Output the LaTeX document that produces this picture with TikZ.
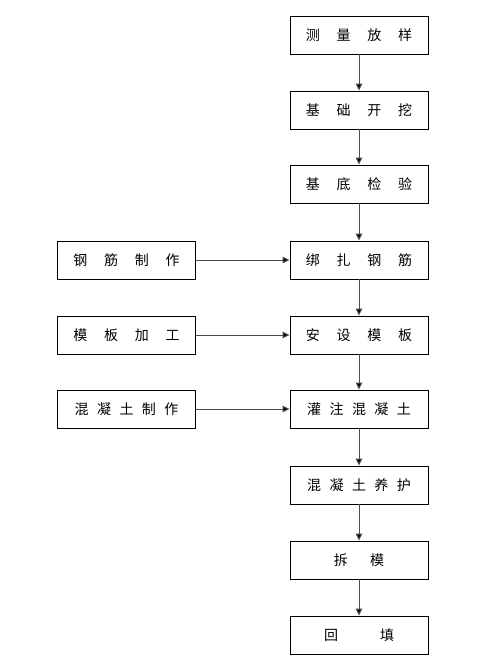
\documentclass[tikz,border=0pt]{standalone}
\usepackage{fontspec}
\setmainfont{Noto Sans CJK SC}
\usetikzlibrary{arrows.meta}
\begin{document}
\begin{tikzpicture}[x=1pt,y=1pt,
  box/.style={draw=black,line width=0.9pt,minimum width=138pt,minimum height=38pt,inner sep=0pt,font=\fontsize{14}{16}\selectfont},
  arr/.style={draw=black!70,line width=1pt,-{Triangle[length=7pt,width=6.5pt,fill=black]}}]
\useasboundingbox (0,0) rectangle (488,-669);
\newcommand{\ga}{\hspace{1.2em}}
\newcommand{\gb}{\hspace{0.6em}}
\node[box] (a1) at (359,-35) {测\ga 量\ga 放\ga 样};
\node[box] (a2) at (359,-110) {基\ga 础\ga 开\ga 挖};
\node[box] (a3) at (359,-184) {基\ga 底\ga 检\ga 验};
\node[box] (a4) at (359,-260) {绑\ga 扎\ga 钢\ga 筋};
\node[box] (a5) at (359,-335) {安\ga 设\ga 模\ga 板};
\node[box] (a6) at (359,-409) {灌\gb 注\gb 混\gb 凝\gb 土};
\node[box] (a7) at (359,-485) {混\gb 凝\gb 土\gb 养\gb 护};
\node[box] (a8) at (359,-560) {拆\hspace{1.6em}模};
\node[box] (a9) at (359,-635) {回\hspace{3em}填};
\node[box] (b4) at (126.5,-260) {钢\ga 筋\ga 制\ga 作};
\node[box] (b5) at (126.5,-335) {模\ga 板\ga 加\ga 工};
\node[box] (b6) at (126.5,-409) {混\gb 凝\gb 土\gb 制\gb 作};
\foreach \i/\j in {a1/a2,a2/a3,a3/a4,a4/a5,a5/a6,a6/a7,a7/a8,a8/a9,b4/a4,b5/a5,b6/a6}
  \draw[arr] (\i) -- (\j);
\end{tikzpicture}
\end{document}
